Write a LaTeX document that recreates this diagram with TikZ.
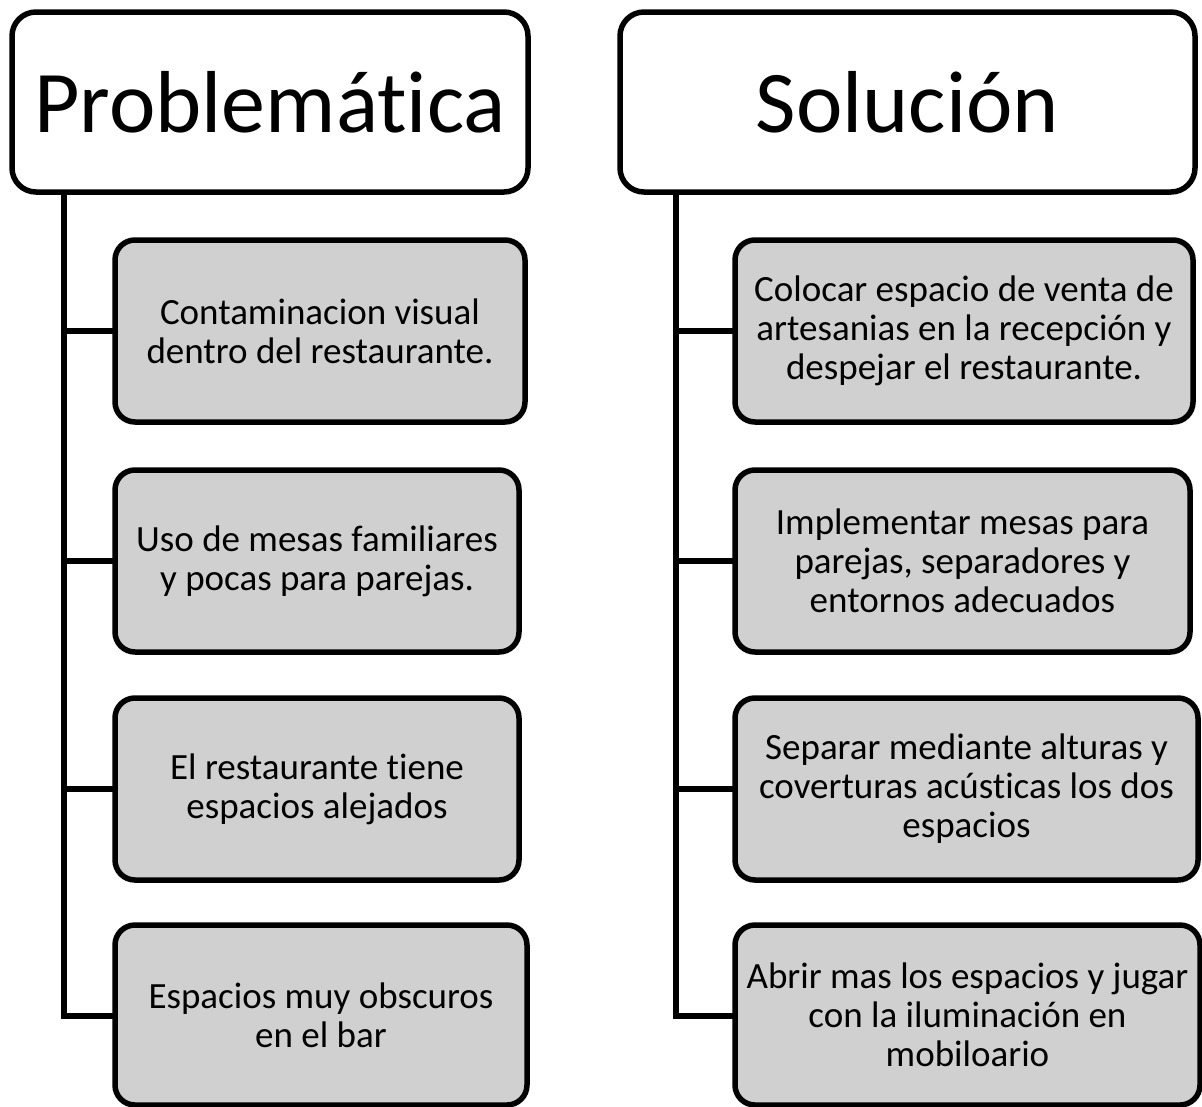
\documentclass[tikz,border=0pt]{standalone}
\usepackage{fontspec}
\setmainfont{Carlito}[Ligatures=NoCommon]
\usepackage{xcolor}
\usepackage{tikz}
\definecolor{boxgray}{RGB}{208,208,208}

\begin{document}
\begin{tikzpicture}[x=1pt,y=-1pt,
  head/.style={draw=black,line width=5.5pt,rounded corners=24pt,fill=white,minimum height=180pt,inner sep=0pt,font=\fontsize{88}{100}\selectfont},
  item/.style={draw=black,line width=5.5pt,rounded corners=20pt,fill=boxgray,minimum height=182pt,inner sep=0pt,align=center,font=\fontsize{37}{39}\selectfont},
  link/.style={line width=5.5pt,line cap=rect}]
\useasboundingbox (0,0) rectangle (1202,1106);

%Shape: trunk start points
\coordinate (tl) at (64,192);
\coordinate (tr) at (676,192);

%Straight Lines: left tree
\draw [link] (tl) |- (335,1016);
\draw [link] (tl) |- (115,331);
\draw [link] (tl) |- (115,561);
\draw [link] (tl) |- (115,789);
%Straight Lines: right tree
\draw [link] (tr) |- (900,1016);
\draw [link] (tr) |- (735,331);
\draw [link] (tr) |- (735,561);
\draw [link] (tr) |- (735,789);

% Header Nodes
\node [head,minimum width=516pt] (hprob) at (270,102) {Problemática};
\node [head,minimum width=575pt] (hsol) at (907.5,102) {Solución};

% Text Node
\node [item,minimum width=410pt] (prob1) at (320,331) {Contaminacion visual\\dentro del restaurante.};
% Text Node
\node [item,minimum width=404pt] (prob2) at (317,561) {Uso de mesas familiares\\y pocas para parejas.};
% Text Node
\node [item,minimum width=404pt] (prob3) at (317,789) {El restaurante tiene\\espacios alejados};
% Text Node
\node [item,minimum width=412pt,minimum height=180pt] (prob4) at (321,1015) {Espacios muy obscuros\\en el bar};

% Text Node
\node [item,minimum width=458pt] (sol1) at (964,331) {Colocar espacio de venta de\\artesanias en la recepción y\\despejar el restaurante.};
% Text Node
\node [item,minimum width=455pt] (sol2) at (962.5,561) {Implementar mesas para\\parejas, separadores y\\entornos adecuados};
% Text Node
\node [item,minimum width=463pt] (sol3) at (966.5,789) {Separar mediante alturas y\\coverturas acústicas los dos\\espacios};
% Text Node
\node [item,minimum width=465pt,minimum height=180pt] (sol4) at (967.5,1015) {Abrir mas los espacios y jugar\\con la iluminación en\\mobiloario};
\end{tikzpicture}
\end{document}
